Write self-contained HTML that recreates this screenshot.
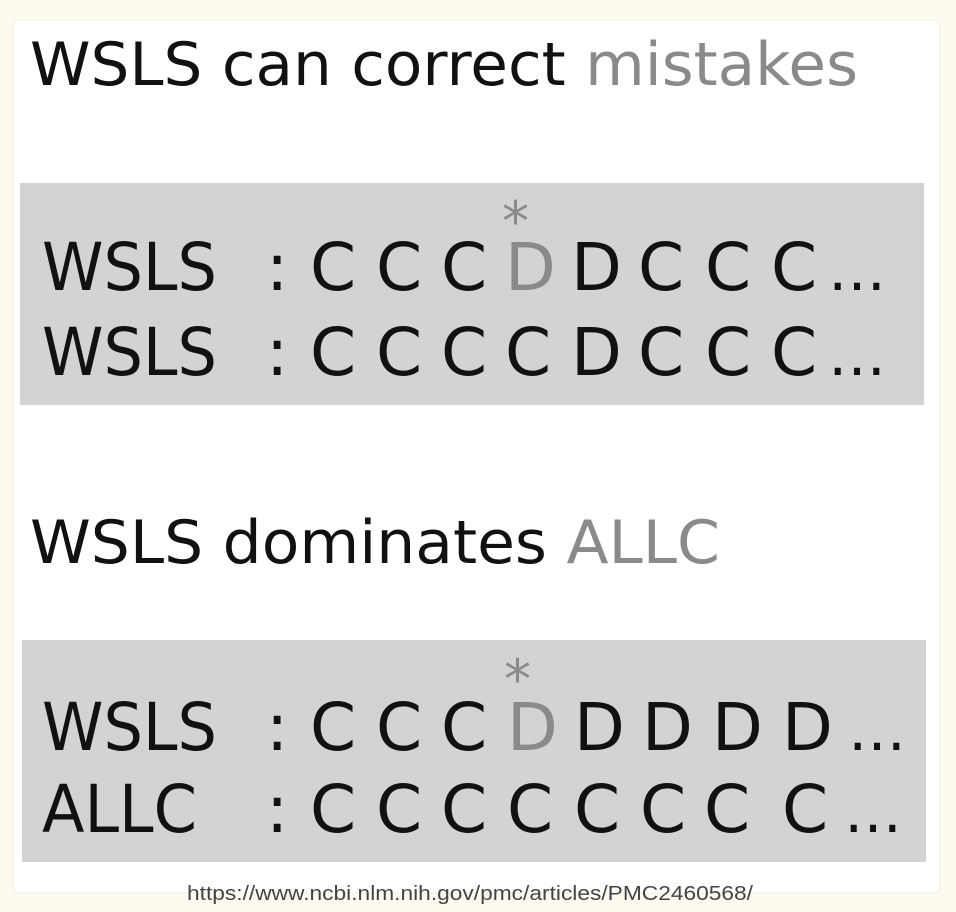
<!DOCTYPE html>
<html><head><style>
html,body{margin:0;padding:0;background:#fdfaf0;}
svg{display:block}
text{font-family:"DejaVu Sans","Liberation Sans",sans-serif;}
</style></head><body>
<svg width="956" height="912" viewBox="0 0 956 912">
<rect x="0" y="0" width="956" height="912" fill="#fdfaf0"/>
<rect x="13" y="20" width="927" height="873" rx="6" fill="#ffffff" stroke="#f0eee6"/>
<text x="30" y="85" font-size="60" textLength="828" lengthAdjust="spacingAndGlyphs" fill="#111"><tspan>WSLS can correct </tspan><tspan fill="#8a8a8a">mistakes</tspan></text>
<rect x="20" y="183" width="904" height="222" fill="#d3d3d3"/>
<g font-size="66" fill="#111">
<text x="42" y="290" textLength="175" lengthAdjust="spacingAndGlyphs">WSLS</text>
<text x="266" y="290">:</text>
<text x="310" y="290">C</text><text x="376" y="290">C</text><text x="441" y="290">C</text>
<text x="505" y="290" fill="#8a8a8a">D</text>
<text x="571" y="290">D</text><text x="638" y="290">C</text><text x="705" y="290">C</text><text x="771" y="290">C</text>
<text x="828" y="290" font-size="58">…</text>
<text x="42" y="375" textLength="175" lengthAdjust="spacingAndGlyphs">WSLS</text>
<text x="266" y="375">:</text>
<text x="310" y="375">C</text><text x="376" y="375">C</text><text x="441" y="375">C</text><text x="505" y="375">C</text>
<text x="571" y="375">D</text><text x="638" y="375">C</text><text x="705" y="375">C</text><text x="771" y="375">C</text>
<text x="828" y="375" font-size="58">…</text>
</g>
<text x="502" y="240" font-size="54" fill="#8a8a8a">*</text>
<text x="30" y="563" font-size="60" textLength="690" lengthAdjust="spacingAndGlyphs" fill="#111"><tspan>WSLS dominates </tspan><tspan fill="#8a8a8a">ALLC</tspan></text>
<rect x="22" y="640" width="904" height="222" fill="#d3d3d3"/>
<g font-size="66" fill="#111">
<text x="42" y="750" textLength="175" lengthAdjust="spacingAndGlyphs">WSLS</text>
<text x="266" y="750">:</text>
<text x="310" y="750">C</text><text x="376" y="750">C</text><text x="441" y="750">C</text>
<text x="507" y="750" fill="#8a8a8a">D</text>
<text x="574" y="750">D</text><text x="642" y="750">D</text><text x="712" y="750">D</text><text x="782" y="750">D</text>
<text x="848" y="750" font-size="58">…</text>
<text x="42" y="832" textLength="155" lengthAdjust="spacingAndGlyphs">ALLC</text>
<text x="266" y="832">:</text>
<text x="310" y="832">C</text><text x="376" y="832">C</text><text x="441" y="832">C</text><text x="507" y="832">C</text>
<text x="574" y="832">C</text><text x="640" y="832">C</text><text x="704" y="832">C</text><text x="782" y="832">C</text>
<text x="844" y="832" font-size="58">…</text>
</g>
<text x="504" y="698" font-size="54" fill="#8a8a8a">*</text>
<text x="470" y="900" font-size="20" text-anchor="middle" fill="#444" style="font-family:'Liberation Sans',sans-serif" textLength="566" lengthAdjust="spacingAndGlyphs">https://www.ncbi.nlm.nih.gov/pmc/articles/PMC2460568/</text>
</svg>
</body></html>
